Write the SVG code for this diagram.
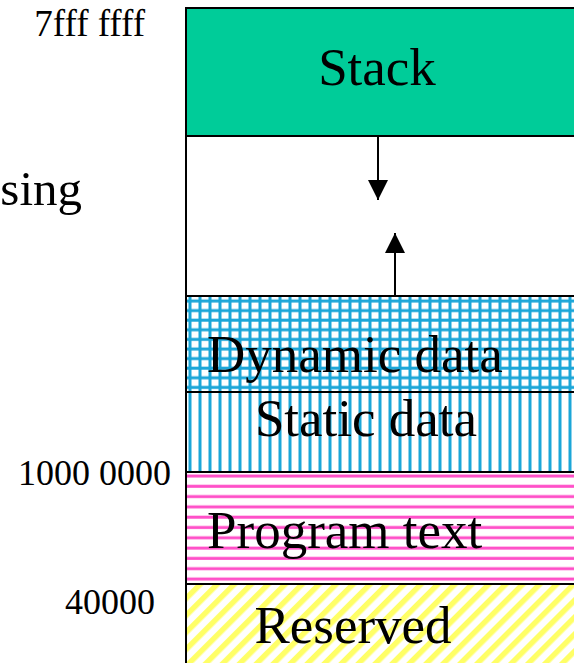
<svg xmlns="http://www.w3.org/2000/svg" width="574" height="663" viewBox="0 0 574 663">
<style>
.seg{stroke:#000;stroke-width:2}
.big{font-family:"Liberation Serif","Times New Roman",serif;font-size:53px;fill:#000}
.addr{font-family:"Liberation Serif","Times New Roman",serif;font-size:36px;fill:#000}
.conn{stroke:#000;stroke-width:2;fill:none}
</style>
<defs>
<pattern id="grid" patternUnits="userSpaceOnUse" x="186" y="296" width="10" height="9.6">
<rect width="10" height="9.6" fill="#fff"/>
<line x1="4" y1="0" x2="4" y2="9.6" stroke="#1ba6d8" stroke-width="3"/>
<line x1="0" y1="5" x2="10" y2="5" stroke="#1ba6d8" stroke-width="3"/>
</pattern>
<pattern id="vlines" patternUnits="userSpaceOnUse" x="186" y="0" width="10" height="10">
<rect width="10" height="10" fill="#fff"/>
<line x1="4" y1="0" x2="4" y2="10" stroke="#1ba6d8" stroke-width="3"/>
</pattern>
<pattern id="hlines" patternUnits="userSpaceOnUse" x="0" y="472" width="10" height="10.3">
<rect width="10" height="10.3" fill="#fff"/>
<line x1="0" y1="4" x2="10" y2="4" stroke="#ff4fc8" stroke-width="3"/>
</pattern>
<pattern id="diag" patternUnits="userSpaceOnUse" width="12" height="12" patternTransform="rotate(45)">
<rect width="12" height="12" fill="#fff"/>
<rect x="0" y="0" width="5.5" height="12" fill="#ffff66"/>
</pattern>
<marker id="ah" viewBox="0 0 20 20" refX="20" refY="10" markerWidth="20" markerHeight="20" markerUnits="userSpaceOnUse" orient="auto">
<path d="M0,0 L20,10 L0,20 Z" fill="#000"/>
</marker>
</defs>
<g id="stack">
<rect class="seg" x="186" y="8" width="420" height="128" fill="#00cc99"/>
<text class="big" x="377" y="85" text-anchor="middle">Stack</text>
</g>
<g id="free">
<rect class="seg" x="186" y="136" width="420" height="160" fill="#fff"/>
</g>
<g id="dynamic">
<rect class="seg" x="186" y="296" width="420" height="96" fill="url(#grid)"/>
<text class="big" x="207" y="372">Dynamic data</text>
</g>
<g id="static">
<rect class="seg" x="186" y="392" width="420" height="80" fill="url(#vlines)"/>
<text class="big" x="366" y="436" text-anchor="middle">Static data</text>
</g>
<g id="program">
<rect class="seg" x="186" y="472" width="420" height="112" fill="url(#hlines)"/>
<text class="big" x="207" y="548">Program text</text>
</g>
<g id="reserved">
<rect class="seg" x="186" y="584" width="420" height="100" fill="url(#diag)"/>
<text class="big" x="353" y="643" text-anchor="middle">Reserved</text>
</g>
<g id="labels">
<text class="addr" x="145" y="36" text-anchor="end" style="font-size:37px">7fff ffff</text>
<text class="big" x="82" y="205" text-anchor="end" style="font-size:49px">sing</text>
<text class="addr" x="171" y="485" text-anchor="end">1000 0000</text>
<text class="addr" x="155" y="614" text-anchor="end">40000</text>
</g>
<g id="connectors">
<line class="conn" x1="378" y1="136" x2="378" y2="200" marker-end="url(#ah)"/>
<line class="conn" x1="395" y1="296" x2="395" y2="233" marker-end="url(#ah)"/>
</g>
</svg>
